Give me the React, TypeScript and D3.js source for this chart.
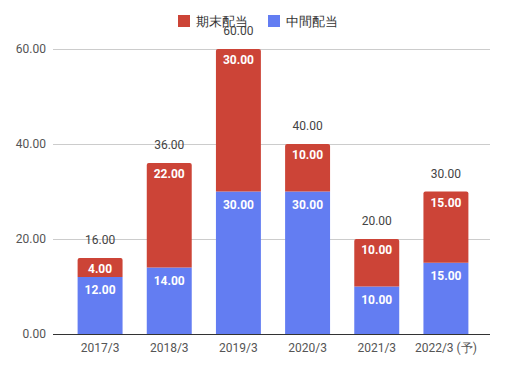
import * as d3 from 'd3'

const years = ['2017/3', '2018/3', '2019/3', '2020/3', '2021/3', '2022/3 (予)']
const interim = [12, 14, 30, 30, 10, 15]
const yearEnd = [4, 22, 30, 10, 10, 15]
const yTicks = [0, 20, 40, 60]

const W = 509
const H = 370
const red = '#cc4437'
const blue = '#637df2'
const font = 'Roboto, Arial, sans-serif'

export default function App() {
    const x = d3.scaleBand<string>().domain(years).range([65.5, 480.5]).paddingInner(0.35).paddingOuter(0.175)
    const y = d3.scaleLinear().domain([0, 60]).range([334, 49])
    const bw = x.bandwidth()
    const fmt = d3.format('.2f')

    return (
        <svg width={W} height={H} style={{ position: 'absolute', left: 0, top: 0 }} fontFamily={font}>
            <rect width={W} height={H} fill='#fff' />
            {/* gridlines + y labels */}
            {yTicks.map(t => (
                <g key={t}>
                    <line x1={53} x2={490} y1={y(t) + 0.5} y2={y(t) + 0.5} stroke={t === 0 ? '#333' : '#ccc'} />
                    <text x={46} y={y(t) + 4} textAnchor='end' fontSize={12} fill='#555'>{fmt(t)}</text>
                </g>
            ))}
            {/* bars */}
            {years.map((yr, i) => {
                const x0 = x(yr) as number
                const a = interim[i]
                const b = yearEnd[i]
                const total = a + b
                const topY = y(total)
                return (
                    <g key={yr}>
                        <rect x={x0} y={y(a)} width={bw} height={y(0) - y(a)} fill={blue} />
                        <path d={`M${x0},${y(a)} V${topY + 2} Q${x0},${topY} ${x0 + 2},${topY} H${x0 + bw - 2} Q${x0 + bw},${topY} ${x0 + bw},${topY + 2} V${y(a)} Z`} fill={red} />
                        <text x={x0 + bw / 2} y={y(a) + 17} textAnchor='middle' fontSize={12} fontWeight='bold' fill='#fff'>{fmt(a)}</text>
                        <text x={x0 + bw / 2} y={topY + 15} textAnchor='middle' fontSize={12} fontWeight='bold' fill='#fff'>{fmt(b)}</text>
                        <text x={x0 + bw / 2} y={topY - 14} textAnchor='middle' fontSize={12} fill='#444'>{fmt(total)}</text>
                        <text x={x0 + bw / 2} y={352} textAnchor='middle' fontSize={12} fill='#555'>{yr}</text>
                    </g>
                )
            })}
            {/* legend */}
            <rect x={178} y={15} width={12} height={12} fill={red} />
            <text x={196} y={26} fontSize={13} fill='#333'>期末配当</text>
            <rect x={268} y={15} width={12} height={12} fill={blue} />
            <text x={286} y={26} fontSize={13} fill='#333'>中間配当</text>
        </svg>
    )
}
